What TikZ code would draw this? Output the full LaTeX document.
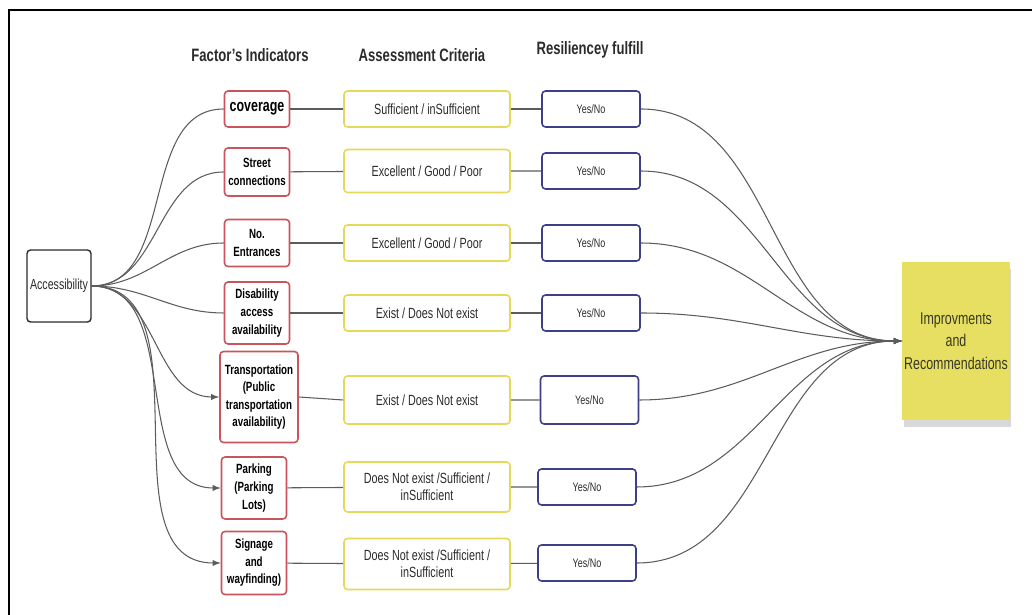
\documentclass[tikz,border=0pt]{standalone}
\usepackage{fontspec}
\setmainfont{Liberation Sans}[FakeStretch=0.73]
\usepackage{tikz}
\usetikzlibrary{calc,arrows.meta}
\usetikzlibrary{positioning}
\usetikzlibrary{shadows}
\definecolor{fi-red}{HTML}{C9545C}
\definecolor{ac-yellow}{HTML}{E6D95A}
\definecolor{rs-blue}{HTML}{3D4088}
\definecolor{im-fill}{HTML}{E6DF62}
\definecolor{ln-gray}{HTML}{5C5C5C}
\definecolor{tx-dark}{HTML}{2B2B2B}

\begin{document}
\begin{tikzpicture}[
    >=latex,
    head/.style={font=\fontsize{10.2}{12}\selectfont\bfseries, text=tx-dark},
    src/.style={draw=tx-dark, line width=0.8pt, fill=white, rounded corners=2pt, minimum width=1.28cm, minimum height=1.44cm, inner sep=1pt, align=center, font=\fontsize{8.3}{10}\selectfont, text=tx-dark},
    factor/.style={draw=fi-red, line width=0.9pt, fill=white, rounded corners=2pt, minimum width=1.3cm, inner sep=1pt, align=center, font=\fontsize{7.6}{10}\selectfont\bfseries, text=black},
    crit/.style={draw=ac-yellow, line width=0.9pt, fill=white, rounded corners=2pt, minimum width=3.32cm, inner sep=1pt, align=center, font=\fontsize{8.4}{9.5}\selectfont, text=tx-dark},
    resil/.style={draw=rs-blue, line width=0.9pt, fill=white, rounded corners=2pt, minimum width=1.96cm, minimum height=0.72cm, inner sep=1pt, align=center, font=\fontsize{7}{8}\selectfont, text=tx-dark},
    target/.style={fill=im-fill, minimum width=2.12cm, minimum height=3.16cm, align=center, inner sep=1pt, font=\fontsize{9.7}{12.8}\selectfont, text=tx-dark!85!olive, drop shadow={shadow xshift=1pt, shadow yshift=-4pt, fill=gray, opacity=0.3}},
    conn/.style={draw=ln-gray, line width=0.6pt},
    fan/.style={out=0, in=180}
]
\useasboundingbox (0,0) rectangle (20.64,12.3);

% =========================================================================
% MOLDURA
% =========================================================================
\draw[line width=1.3pt] (0.18,0) -- (0.18,12.1) -- (20.8,12.1);

% =========================================================================
% CABEÇALHOS DAS COLUNAS
% =========================================================================
\node[head] (h_fac)  at (5.0, 11.2)  {Factor's Indicators};
\node[head] (h_crit) at (8.44, 11.2) {Assessment Criteria};
\node[head] (h_res)  at (11.8, 11.3) {Resiliencey fulfill};

% =========================================================================
% ORIGEM
% =========================================================================
\node[src] (acc) at (1.18, 6.58) {Accessibility};

% =========================================================================
% INDICADORES (vermelho)
% =========================================================================
\node[factor, minimum height=0.72cm, font=\fontsize{9.7}{11}\selectfont\bfseries] (fac1) at (5.14, 10.12) {coverage};
\node[factor, minimum height=0.96cm] (fac2) at (5.14, 8.86) {Street\\connections};
\node[factor, minimum height=0.94cm] (fac3) at (5.14, 7.44) {No.\\Entrances};
\node[factor, minimum height=1.24cm] (fac4) at (5.14, 6.04) {Disability\\access\\availability};
\node[factor, minimum width=1.56cm, minimum height=1.82cm] (fac5) at (5.18, 4.36) {Transportation\\(Public\\transportation\\availability)};
\node[factor, minimum height=1.24cm] (fac6) at (5.08, 2.54) {Parking\\(Parking\\Lots)};
\node[factor, minimum height=1.26cm] (fac7) at (5.08, 1.04) {Signage\\and\\wayfinding)};

% =========================================================================
% CRITÉRIOS (amarelo)
% =========================================================================
\node[crit, minimum height=0.72cm] (crit1) at (8.54, 10.12) {Sufficient / inSufficient};
\node[crit, minimum height=0.86cm] (crit2) at (8.54, 8.88)  {Excellent / Good / Poor};
\node[crit, minimum height=0.72cm] (crit3) at (8.54, 7.44)  {Excellent / Good / Poor};
\node[crit, minimum height=0.72cm] (crit4) at (8.54, 6.04)  {Exist / Does Not exist};
\node[crit, minimum height=0.96cm] (crit5) at (8.54, 4.30)  {Exist / Does Not exist};
\node[crit, minimum height=1.0cm]  (crit6) at (8.54, 2.56)  {Does Not exist /Sufficient /\\inSufficient};
\node[crit, minimum height=1.02cm] (crit7) at (8.54, 1.02)  {Does Not exist /Sufficient /\\inSufficient};

% =========================================================================
% RESILIÊNCIA (azul)
% =========================================================================
\node[resil] (res1) at (11.82, 10.12) {Yes/No};
\node[resil] (res2) at (11.82, 8.88)  {Yes/No};
\node[resil] (res3) at (11.82, 7.44)  {Yes/No};
\node[resil] (res4) at (11.82, 6.04)  {Yes/No};
\node[resil, minimum height=0.96cm] (res5) at (11.79, 4.30) {Yes/No};
\node[resil] (res6) at (11.74, 2.56)  {Yes/No};
\node[resil] (res7) at (11.74, 1.04)  {Yes/No};

% =========================================================================
% DESTINO
% =========================================================================
\node[target] (imp) at (19.12, 5.48) {Improvments\\and\\Recommendations};

% =========================================================================
% LIGAÇÕES: ORIGEM -> INDICADORES
% =========================================================================
\draw[conn] (acc.east) to[fan] (fac1.west);
\draw[conn] (acc.east) to[fan] (fac2.west);
\draw[conn] (acc.east) to[fan] (fac3.west);
\draw[conn] (acc.east) to[fan] (fac4.west);
\draw[conn, ->] (acc.east) to[fan] (fac5.west);
\draw[conn, ->] (acc.east) to[fan] (fac6.west);
\draw[conn, ->] (acc.east) to[fan] (fac7.west);

% =========================================================================
% LIGAÇÕES HORIZONTAIS
% =========================================================================
\draw[conn] (fac1) -- (crit1) (crit1) -- (res1);
\draw[conn] (fac2) -- (crit2) (crit2) -- (res2);
\draw[conn] (fac3) -- (crit3) (crit3) -- (res3);
\draw[conn] (fac4) -- (crit4) (crit4) -- (res4);
\draw[conn] (fac5.east) -- (crit5.west) (crit5) -- (res5);
\draw[conn] (fac6) -- (crit6) (crit6) -- (res6);
\draw[conn] (fac7) -- (crit7) (crit7) -- (res7);

% =========================================================================
% LIGAÇÕES: RESILIÊNCIA -> DESTINO
% =========================================================================
\draw[conn, ->] (res1.east) to[fan] (imp.west);
\draw[conn, ->] (res2.east) to[fan] (imp.west);
\draw[conn, ->] (res3.east) to[fan] (imp.west);
\draw[conn, ->] (res4.east) to[fan] (imp.west);
\draw[conn, ->] (res5.east) to[fan] (imp.west);
\draw[conn, ->] (res6.east) to[fan] (imp.west);
\draw[conn, ->] (res7.east) to[fan] (imp.west);

\end{tikzpicture}
\end{document}
